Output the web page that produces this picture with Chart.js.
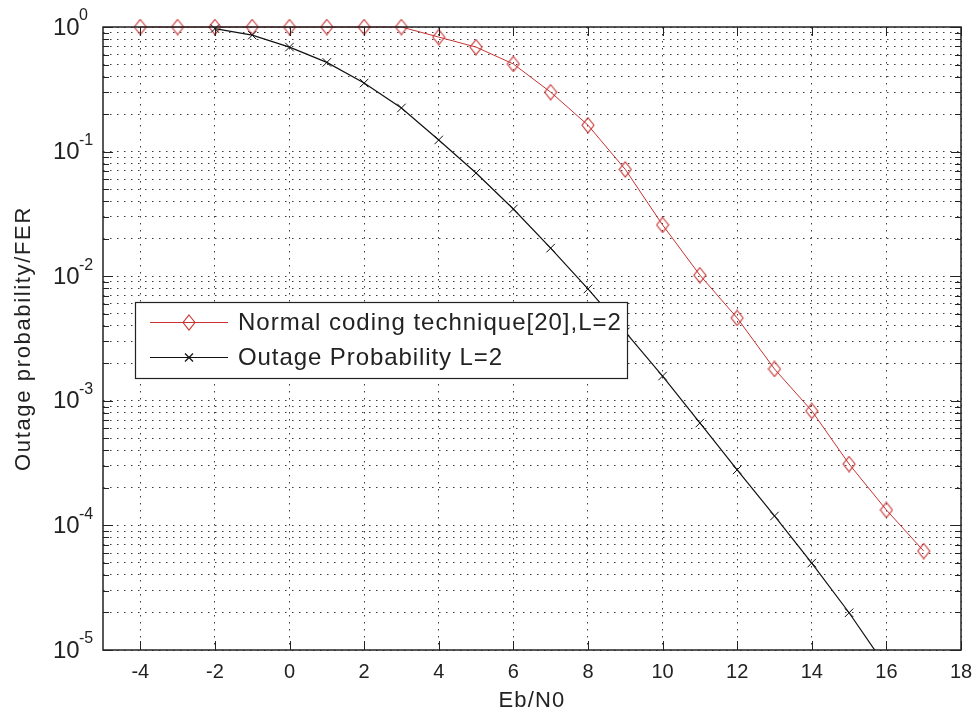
<!DOCTYPE html>
<html><head><meta charset="utf-8">
<script src="https://cdn.jsdelivr.net/npm/chart.js@4.4.1/dist/chart.umd.min.js"></script>
<style>html,body{margin:0;padding:0;background:#fff;}canvas{display:block;}</style>
</head><body>
<canvas id="c" width="973" height="715"></canvas>
<script>
// ---- data ----
const ebN0Coding = [-4,-3,-2,-1,0,1,2,3,4,5,6,7,8,9,10,11,12,13,14,15,16,17];
const ferCoding = [1,1,1,1,1,1,1,1,0.83,0.69,0.505,0.30,0.163,0.072,0.0258,0.0102,0.00462,0.0018,0.00083,0.000311,0.000133,0.0000623];
const ebN0Outage = [-2,-1,0,1,2,3,4,5,6,7,8,9,10,11,12,13,14,15,16];
const outageProb = [0.97,0.86,0.69,0.52,0.355,0.224,0.124,0.0673,0.0346,0.0168,0.0079,0.00357,0.00158,0.000664,0.000279,0.000119,0.0000499,0.0000199,0.0000073];
const seriesNames = ['Normal coding technique[20],L=2','Outage Probability L=2'];
const xTickValues = [-4,-2,0,2,4,6,8,10,12,14,16,18];
const xTickLabels = ['-4','-2','0','2','4','6','8','10','12','14','16','18'];
const yDecadeValues = [1,0.1,0.01,0.001,0.0001,0.00001];
const yDecadeExponents = ['0','-1','-2','-3','-4','-5'];
const xAxisTitle = 'Eb/N0';
const yAxisTitle = 'Outage probability/FER';

// grid values for log axis (decades and 2..9 minors)
const yGridValues = [];
for (let e = -5; e <= 0; e++) {
  yGridValues.push(Math.pow(10, e));
  if (e < 0) for (let k = 2; k <= 9; k++) yGridValues.push(+(k * Math.pow(10, e)).toPrecision(3));
}

const RED = '#c83232';
const INK = '#222';
const FONT = '"Liberation Sans", Arial, sans-serif';

function diamondImg(w, h, color) {
  const c = document.createElement('canvas');
  c.width = w + 2; c.height = h + 2;
  const g = c.getContext('2d');
  g.strokeStyle = color; g.lineWidth = 1.1;
  g.beginPath();
  g.moveTo(c.width / 2, 1); g.lineTo(c.width - 1, c.height / 2);
  g.lineTo(c.width / 2, c.height - 1); g.lineTo(1, c.height / 2);
  g.closePath(); g.stroke();
  return c;
}
const diamond = diamondImg(12, 15, RED);

// set letter spacing so the text spans the target width
function fitSpacing(ctx, text, target) {
  ctx.letterSpacing = '0px';
  const w = ctx.measureText(text).width;
  const s = Math.max(-1, (target - w) / text.length);
  ctx.letterSpacing = s.toFixed(2) + 'px';
}

const deco = {
  id: 'deco',
  afterDraw(chart) {
    const { ctx, chartArea: a, scales: { x, y } } = chart;
    ctx.save();
    const line = (x1, y1, x2, y2) => { ctx.beginPath(); ctx.moveTo(x1, y1); ctx.lineTo(x2, y2); ctx.stroke(); };
    // box
    ctx.strokeStyle = INK; ctx.lineWidth = 1.5;
    ctx.strokeRect(a.left, a.top, a.right - a.left, a.bottom - a.top);
    // tick marks (inward)
    ctx.lineWidth = 1;
    xTickValues.forEach(v => {
      const px = Math.round(x.getPixelForValue(v)) + 0.5;
      line(px, a.bottom, px, a.bottom - 9);
      line(px, a.top, px, a.top + 9);
    });
    yGridValues.forEach(v => {
      const py = Math.round(y.getPixelForValue(v)) + 0.5;
      const len = yDecadeValues.includes(v) ? 10 : 6;
      line(a.left, py, a.left + len, py);
      line(a.right, py, a.right - len, py);
    });
    // x tick labels
    ctx.fillStyle = INK;
    ctx.font = '20px ' + FONT;
    ctx.textAlign = 'center'; ctx.textBaseline = 'middle';
    xTickValues.forEach((v, i) => ctx.fillText(xTickLabels[i], x.getPixelForValue(v), a.bottom + 22));
    // y tick labels 10^e
    ctx.textAlign = 'left';
    yDecadeValues.forEach((v, i) => {
      const py = y.getPixelForValue(v);
      ctx.font = '24px ' + FONT;
      ctx.fillText('10', 53, py + 1);
      ctx.font = '16px ' + FONT;
      ctx.fillText(yDecadeExponents[i], 79, py - 11);
    });
    // axis titles
    ctx.font = '22px ' + FONT;
    ctx.textAlign = 'center';
    fitSpacing(ctx, xAxisTitle, 67);
    ctx.fillText(xAxisTitle, (a.left + a.right) / 2, 701);
    ctx.save();
    ctx.translate(24, (a.top + a.bottom) / 2);
    ctx.rotate(-Math.PI / 2);
    fitSpacing(ctx, yAxisTitle, 265);
    ctx.fillText(yAxisTitle, 0, 0);
    ctx.restore();
    // legend
    const L = 135, T = 302, R = 627, B = 378;
    ctx.fillStyle = '#fff';
    ctx.fillRect(L, T, R - L, B - T);
    ctx.strokeStyle = INK; ctx.lineWidth = 1.2;
    ctx.strokeRect(L + 0.5, T + 0.5, R - L, B - T);
    const rows = [322, 357];
    ctx.strokeStyle = RED; ctx.lineWidth = 1;
    line(150, rows[0] + 0.5, 228, rows[0] + 0.5);
    ctx.drawImage(diamond, 189 - diamond.width / 2, rows[0] - diamond.height / 2 + 0.5);
    ctx.strokeStyle = '#111'; ctx.lineWidth = 1.2;
    line(150, rows[1] + 0.5, 228, rows[1] + 0.5);
    line(185, rows[1] - 3.5, 193, rows[1] + 4.5);
    line(185, rows[1] + 4.5, 193, rows[1] - 3.5);
    ctx.fillStyle = INK;
    ctx.font = '24px ' + FONT;
    ctx.textAlign = 'left'; ctx.textBaseline = 'middle';
    fitSpacing(ctx, seriesNames[0], 384);
    ctx.fillText(seriesNames[0], 238, rows[0] + 1);
    fitSpacing(ctx, seriesNames[1], 265);
    ctx.fillText(seriesNames[1], 238, rows[1] + 1);
    ctx.restore();
  }
};

const dotted = { color: '#3a3a3a', lineWidth: 1, drawTicks: false };

new Chart(document.getElementById('c'), {
  type: 'line',
  data: {
    datasets: [
      {
        label: seriesNames[0],
        data: ebN0Coding.map((v, i) => ({ x: v, y: ferCoding[i] })),
        borderColor: RED, borderWidth: 1, backgroundColor: 'transparent',
        pointStyle: diamond, pointRadius: 7, pointHoverRadius: 7,
        tension: 0, clip: false, order: 1
      },
      {
        label: seriesNames[1],
        data: ebN0Outage.map((v, i) => ({ x: v, y: outageProb[i] })),
        borderColor: '#111', borderWidth: 1.2, backgroundColor: 'transparent',
        pointStyle: 'crossRot', pointRadius: 6, pointBorderWidth: 1, pointBorderColor: '#111',
        tension: 0, clip: { left: 10, top: 10, right: 10, bottom: 0 }, order: 0
      }
    ]
  },
  options: {
    responsive: false, animation: false, devicePixelRatio: 1,
    layout: { padding: { left: 103, right: 12, top: 27, bottom: 65 } },
    plugins: { legend: { display: false }, tooltip: { enabled: false } },
    events: [],
    scales: {
      x: {
        type: 'linear', min: -5, max: 18,
        afterBuildTicks: s => { s.ticks = xTickValues.map(v => ({ value: v })); },
        ticks: { display: false },
        grid: dotted,
        border: { display: false, dash: [1.5, 5.5] },
        title: { display: false }
      },
      y: {
        type: 'logarithmic', min: 0.00001, max: 1,
        afterBuildTicks: s => { s.ticks = yGridValues.map(v => ({ value: v })); },
        ticks: { display: false },
        grid: dotted,
        border: { display: false, dash: [1.5, 5.5] },
        title: { display: false }
      }
    }
  },
  plugins: [deco]
});
</script>
</body></html>
